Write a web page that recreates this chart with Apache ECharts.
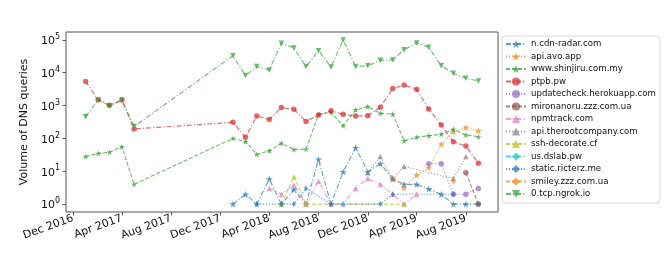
<!DOCTYPE html>
<html>
<head>
<meta charset="utf-8">
<script src="https://cdn.jsdelivr.net/npm/echarts@6/dist/echarts.min.js"></script>
<style>html,body{margin:0;padding:0;background:#fff}#c{width:664px;height:266px}</style>
</head>
<body>
<div id="c"></div>
<script>
const N = null;
const months = [
  '2017-01','2017-02','2017-03','2017-04','2017-05','2017-06','2017-07','2017-08','2017-09','2017-10','2017-11','2017-12',
  '2018-01','2018-02','2018-03','2018-04','2018-05','2018-06','2018-07','2018-08','2018-09','2018-10','2018-11','2018-12',
  '2019-01','2019-02','2019-03','2019-04','2019-05','2019-06','2019-07','2019-08','2019-09'
];
const xTickMonths = ['2016-12','2017-04','2017-08','2017-12','2018-04','2018-08','2018-12','2019-04','2019-08'];
const yTickValues = [1, 10, 100, 1000, 10000, 100000];

const seriesNames = ['n.cdn-radar.com','api.avo.app','www.shinjiru.com.my','ptpb.pw','updatecheck.herokuapp.com',
  'mironanoru.zzz.com.ua','npmtrack.com','api.therootcompany.com','ssh-decorate.cf','us.dslab.pw',
  'static.ricterz.me','smiley.zzz.com.ua','0.tcp.ngrok.io'];

const cdnRadar = [N,N,N,N,N,N,N,N,N,N,N,N,
  1,2,1,5.8,1,2.8,1,23,1,9.6,52,9.6,
  17,5.8,4,4,2.9,2,1,1,1];
const avoApp = [N,N,N,N,N,N,N,N,N,N,N,N,
  N,N,N,N,N,N,N,N,N,N,N,N,
  N,6,3.2,7.6,13,67,160,215,171];
const shinjiru = [28,35,38,56,4,N,N,N,N,N,N,N,
  100,80,33,42,71,46,47,540,620,245,740,930,
  580,550,85,108,120,135,190,127,113];
const ptpb = [5400,1500,1020,1480,194,N,N,N,N,N,N,N,
  310,108,480,380,870,770,330,515,690,540,480,490,
  890,3300,4200,3150,790,255,79,59,17.5];
const updatecheck = [N,N,N,N,N,N,N,N,N,N,N,N,
  N,N,N,N,N,N,N,N,N,N,N,N,
  N,N,N,N,17,17,2,2,3];
const mironanoru = [N,N,N,N,N,N,N,N,N,N,N,N,
  N,N,N,N,N,N,N,N,N,N,N,N,
  N,N,N,N,N,N,N,9,1];
const npmtrack = [N,N,N,N,N,N,N,N,N,N,N,N,
  N,N,N,3,2,3.8,1,5,1,1,3,6,
  4,2,1,2,N,N,N,N,N];
const therootcompany = [N,N,N,N,N,N,N,N,N,N,N,N,
  N,N,N,N,N,N,N,N,N,N,N,9,
  28,6,14,N,N,N,6,28,N];
const sshDecorate = [N,N,N,N,N,N,N,N,N,N,N,N,
  N,N,N,N,1,6.8,1,N,N,N,N,N,
  N,N,1,N,N,N,N,N,N];
const dslab = [N,N,N,N,N,N,N,N,N,N,N,N,
  N,N,N,N,N,N,N,N,N,1,N,N,
  N,N,N,N,N,N,N,N,N];
const ricterz = [N,N,N,N,N,N,N,N,N,N,N,N,
  N,N,1,N,1,1,3,N,1,N,N,N,
  1,2,N,N,N,N,2,N,N];
const smiley = [N,N,N,N,N,N,N,N,N,N,N,N,
  N,N,N,N,N,N,N,N,N,N,N,N,
  N,N,N,N,N,N,5,N,N];
const ngrok = [460,1480,970,1480,230,N,N,N,N,N,N,N,
  33000,8200,15400,12200,79000,57000,15400,47000,14900,100000,15400,16200,
  24000,24500,50000,81000,60000,16200,9600,6800,5600];

const allValues = [cdnRadar, avoApp, shinjiru, ptpb, updatecheck, mironanoru, npmtrack,
  therootcompany, sshDecorate, dslab, ricterz, smiley, ngrok];

const colors = ['#1f77b4','#ff7f0e','#2ca02c','#d62728','#9467bd','#8c564b','#e377c2','#7f7f7f','#bcbd22','#17becf','#1f77b4','#ff7f0e','#2ca02c'];
const DASHDOT = [5, 2, 1.2, 2], DOTTED = [1.2, 1.8], DASHED = [4, 2];
const dashes = [DASHDOT, DOTTED, DASHED, DASHDOT, DOTTED, DASHED, DASHDOT, DOTTED, DASHED, DASHDOT, DOTTED, DASHED, DASHDOT];
const STAR = 'path://M0,-10L2.35,-3.24L9.51,-3.09L3.8,1.24L5.88,8.09L0,4L-5.88,8.09L-3.8,1.24L-9.51,-3.09L-2.35,-3.24Z';
const symbols = [STAR, STAR, STAR, 'circle', 'circle', 'circle', 'triangle', 'triangle', 'triangle', 'diamond', 'diamond', 'diamond', 'triangle'];
const symbolSizes = [7, 7, 6, 5.5, 5.5, 5.5, 5.5, 5.5, 5.5, [4, 6], [4, 6], [4, 6], 5.5];
const rotations = [0,0,0,0,0,0,0,0,0,0,0,0,180];

function ts(m) { const [y, mo] = m.split('-').map(Number); return new Date(y, mo - 1, 1).getTime(); }
const MN = ['Jan','Feb','Mar','Apr','May','Jun','Jul','Aug','Sep','Oct','Nov','Dec'];

const t0 = ts(months[0]), t1 = ts(months[months.length - 1]);
const pad = (t1 - t0) * 0.05;

const series = seriesNames.map((name, k) => ({
  name,
  type: 'line',
  data: months.map((m, i) => [ts(m), allValues[k][i]]).filter(d => d[1] !== null),
  symbol: symbols[k],
  symbolSize: symbolSizes[k],
  symbolRotate: rotations[k],
  showAllSymbol: true,
  color: colors[k],
  itemStyle: { color: colors[k], opacity: 0.7 },
  lineStyle: { color: colors[k], width: 1.1, type: dashes[k], opacity: 0.7 },
  emphasis: { disabled: true },
  animation: false
}));

const chart = echarts.init(document.getElementById('c'), null, { renderer: 'canvas' });
chart.setOption({
  animation: false,
  textStyle: { fontFamily: 'DejaVu Sans' },
  grid: { left: 66, right: 166, top: 32, bottom: 54, show: true, borderColor: '#555', borderWidth: 1, backgroundColor: 'transparent' },
  xAxis: {
    type: 'value',
    min: t0 - pad,
    max: t1 + pad,
    splitLine: { show: false },
    axisLine: { show: false },
    axisTick: { show: true, length: 3.5, lineStyle: { color: '#555' }, customValues: xTickMonths.map(ts) },
    axisLabel: {
      customValues: xTickMonths.map(ts),
      rotate: 20,
      margin: 6,
      fontSize: 11,
      color: '#111',
      fontFamily: 'DejaVu Sans',
      formatter: function (v) { const d = new Date(v); return MN[d.getMonth()] + ' ' + d.getFullYear(); }
    }
  },
  yAxis: {
    type: 'log',
    logBase: 10,
    min: Math.pow(10, -0.24),
    max: Math.pow(10, 5.24),
    name: 'Volume of DNS queries',
    nameLocation: 'middle',
    nameGap: 27,
    nameTextStyle: { fontSize: 11, color: '#111', fontFamily: 'DejaVu Sans' },
    splitLine: { show: false },
    axisLine: { show: false },
    axisTick: { show: true, length: 3.5, lineStyle: { color: '#555' }, customValues: yTickValues },
    axisLabel: {
      customValues: yTickValues,
      margin: 6,
      color: '#111',
      formatter: function (v) { return '{b|10}{s|' + Math.round(Math.log10(v)) + '}'; },
      rich: {
        b: { fontSize: 11, fontFamily: 'DejaVu Sans', color: '#111', verticalAlign: 'bottom' },
        s: { fontSize: 8, fontFamily: 'DejaVu Sans', color: '#111', verticalAlign: 'top', padding: [0, 0, 6, 0] }
      }
    }
  },
  legend: {
    orient: 'vertical',
    left: 502,
    top: 36,
    padding: [3, 4, 4, 3],
    itemGap: 2.5,
    itemWidth: 20,
    itemHeight: 10,
    backgroundColor: '#fff',
    borderColor: '#d8d8d8',
    borderWidth: 1,
    borderRadius: 3,
    textStyle: { fontSize: 8.6, color: '#111', fontFamily: 'DejaVu Sans', lineHeight: 10 },
    data: seriesNames
  },
  series
});
</script>
</body>
</html>
